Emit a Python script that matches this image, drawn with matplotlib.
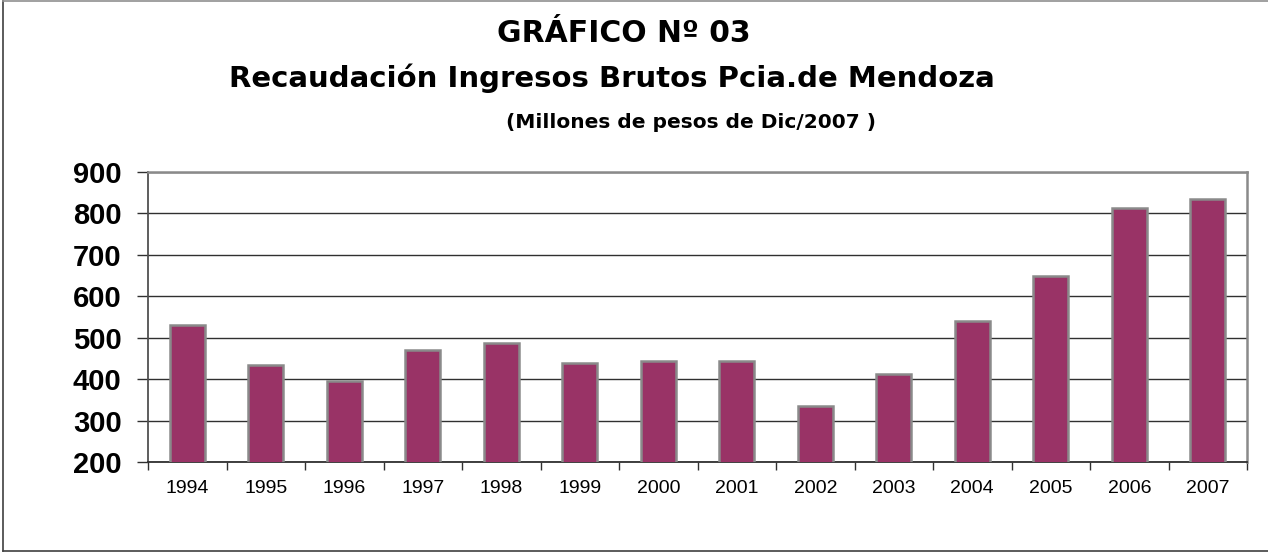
import matplotlib
matplotlib.use("Agg")
import matplotlib.pyplot as plt
import numpy as np
from matplotlib.lines import Line2D

years = ["1994", "1995", "1996", "1997", "1998", "1999", "2000",
         "2001", "2002", "2003", "2004", "2005", "2006", "2007"]
values = [531, 433, 395, 471, 487, 439, 444, 445, 336, 412, 541, 650, 813, 834]
y_ticks = [200, 300, 400, 500, 600, 700, 800, 900]

title1 = "GRÁFICO Nº 03"
title2 = "Recaudación Ingresos Brutos Pcia.de Mendoza"
title3 = "(Millones de pesos de Dic/2007 )"

plt.rcParams['font.family'] = ['Liberation Sans', 'DejaVu Sans']

W, H = 1268, 552
fig = plt.figure(figsize=(W / 100, H / 100), dpi=100)
ax = fig.add_axes([148 / W, (H - 462) / H, (1247 - 148) / W, (462 - 172) / H])

x = np.arange(len(years))
ax.bar(x, values, width=0.44, color="#993366", edgecolor="#8a8a8a",
       linewidth=1.8, zorder=3)
ax.set_xlim(-0.5, len(years) - 0.5)
ax.set_ylim(200, 900)
ax.set_yticks(y_ticks)
ax.set_yticklabels([str(v) for v in y_ticks], fontsize=21, fontweight="bold")
ax.yaxis.grid(True, color="#303030", linewidth=1.0, zorder=0)
ax.set_axisbelow(True)

ax.set_xticks(x)
ax.set_xticklabels(years, fontsize=14)
ax.set_xticks(np.arange(-0.5, len(years)), minor=True)
ax.tick_params(axis="x", which="major", length=0, pad=13)
ax.tick_params(axis="x", which="minor", length=6, width=1, color="#303030", direction="out")
ax.tick_params(axis="y", length=8, width=1, color="#303030", direction="out", pad=11)

for side in ["top", "right"]:
    ax.spines[side].set_color("#8a8a8a")
    ax.spines[side].set_linewidth(1.8)
ax.spines["left"].set_color("#505050")
ax.spines["left"].set_linewidth(1.3)
ax.spines["bottom"].set_color("#303030")
ax.spines["bottom"].set_linewidth(1.3)

tfont = ['DejaVu Sans']
fig.text(624 / W, 1 - 33 / H, title1, ha="center", va="center", fontsize=21.5,
         family=tfont, fontweight="bold")
fig.text(612 / W, 1 - 78 / H, title2, ha="center", va="center", fontsize=21,
         family=tfont, fontweight="bold")
fig.text(691 / W, 1 - 123 / H, title3, ha="center", va="center", fontsize=14.5,
         family=tfont, fontweight="bold")

# outer border
fig.add_artist(Line2D([3 / W, 3 / W], [1 - 551 / H, 1 - 1 / H], transform=fig.transFigure, color="#404040", lw=1.2))
fig.add_artist(Line2D([3 / W, 1], [1 - 1 / H, 1 - 1 / H], transform=fig.transFigure, color="#909090", lw=1.2))
fig.add_artist(Line2D([3 / W, 1], [1 - 550.5 / H, 1 - 550.5 / H], transform=fig.transFigure, color="#404040", lw=1.2))

fig.savefig("out.png", dpi=100)
